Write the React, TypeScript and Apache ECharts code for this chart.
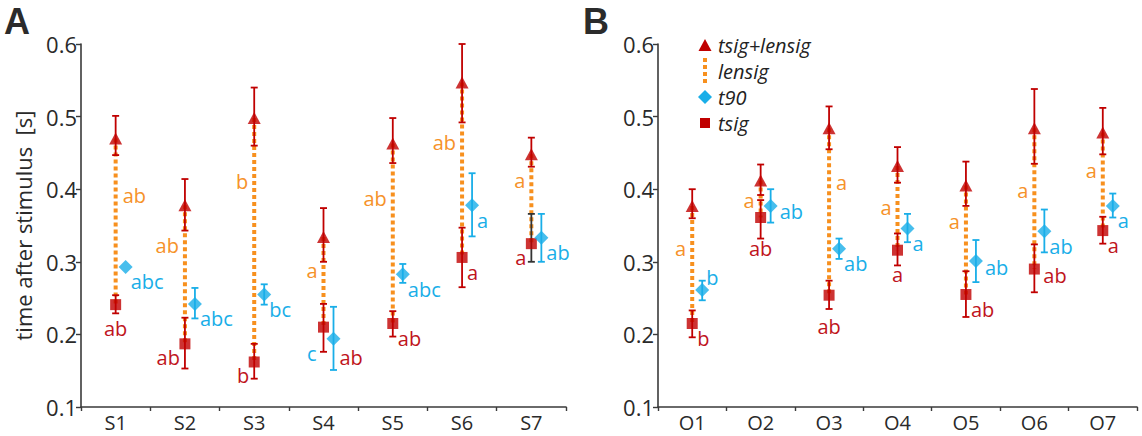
import React, { useEffect, useRef } from "react";
import * as echarts from "echarts";

// ---------------- DATA ----------------
const catsA = ["S1", "S2", "S3", "S4", "S5", "S6", "S7"];
const catsB = ["O1", "O2", "O3", "O4", "O5", "O6", "O7"];
const yTicks = [0.1, 0.2, 0.3, 0.4, 0.5, 0.6];

// Panel A
const tsigLensigA = [0.470, 0.378, 0.498, 0.334, 0.463, 0.547, 0.448];
const tsigLensigHiA = [0.501, 0.414, 0.540, 0.374, 0.498, 0.600, 0.471];
const tsigLensigLoA = [0.447, 0.343, 0.460, 0.300, 0.436, 0.492, 0.431];
const tsigA = [0.241, 0.187, 0.162, 0.210, 0.215, 0.306, 0.325];
const tsigHiA = [0.254, 0.223, 0.187, 0.242, 0.232, 0.347, 0.366];
const tsigLoA = [0.229, 0.153, 0.139, 0.176, 0.197, 0.265, 0.300];
const t90A = [0.293, 0.242, 0.255, 0.194, 0.283, 0.378, 0.333];
const t90HiA = [0.293, 0.264, 0.269, 0.238, 0.297, 0.422, 0.366];
const t90LoA = [0.293, 0.222, 0.241, 0.151, 0.271, 0.335, 0.300];

// Panel B
const tsigLensigB = [0.377, 0.412, 0.484, 0.432, 0.405, 0.484, 0.478];
const tsigLensigHiB = [0.400, 0.434, 0.514, 0.458, 0.438, 0.538, 0.512];
const tsigLensigLoB = [0.360, 0.392, 0.455, 0.409, 0.377, 0.435, 0.448];
const tsigB = [0.215, 0.361, 0.254, 0.316, 0.255, 0.290, 0.343];
const tsigHiB = [0.233, 0.385, 0.274, 0.339, 0.287, 0.324, 0.362];
const tsigLoB = [0.196, 0.332, 0.235, 0.295, 0.224, 0.258, 0.325];
const t90B = [0.261, 0.377, 0.318, 0.346, 0.301, 0.342, 0.377];
const t90HiB = [0.274, 0.400, 0.332, 0.366, 0.330, 0.372, 0.394];
const t90LoB = [0.247, 0.354, 0.304, 0.327, 0.272, 0.313, 0.361];

// significance letters
const lensigLettersA = ["ab", "ab", "b", "a", "ab", "ab", "a"];
const lensigSideA = ["right", "left", "left", "left", "left", "left", "left"];
const lensigLabelAtA = [0.392, 0.323, 0.410, 0.288, 0.387, 0.465, 0.412];
const t90LettersA = ["abc", "abc", "bc", "c", "abc", "a", "ab"];
const t90PlaceA = ["rb", "rb", "rb", "lb2", "rb", "rb", "rb"];
const tsigLettersA = ["ab", "ab", "b", "ab", "ab", "a", "a"];
const tsigPlaceA = ["b", "lb", "lb", "rbb", "rb", "rb", "lb"];

const lensigLettersB = ["a", "a", "a", "a", "a", "a", "a"];
const lensigSideB = ["left", "left", "right", "left", "left", "left", "left"];
const lensigLabelAtB = [0.318, 0.385, 0.409, 0.375, 0.356, 0.398, 0.426];
const t90LettersB = ["b", "ab", "ab", "a", "ab", "ab", "a"];
const t90PlaceB = ["rt", "r", "rb", "rb", "r", "rb", "rb"];
const tsigLettersB = ["b", "ab", "ab", "a", "ab", "ab", "a"];
const tsigPlaceB = ["rb", "bb", "bb", "b", "rb", "r", "rb"];

// categories whose tsig error bar is drawn dark
const darkTsigBars = ["S7"];

// ---------------- STYLE ----------------
const RED = "#C00000";
const BLUE = "#19AEE8";
const ORANGE = "#F7901E";
const ORANGE_TXT = "#F6922A";
const RED_TXT = "#C0141C";
const AXIS = "#3a3a3a";
const FONT = "'Open Sans', sans-serif";
const T90_DX = 10;

const placeOffsets: Record<string, [number, number, string]> = {
  rb: [5, 15, "left"],
  lb: [-5, 14, "right"],
  lb2: [-17, 15, "right"],
  b: [0, 24, "center"],
  bb: [0, 31, "center"],
  r: [9, 6, "left"],
  rt: [4, -13, "left"],
  rbb: [16, 30, "left"],
};

function App() {
  const ref = useRef<HTMLDivElement>(null);

  useEffect(() => {
    if (!ref.current) return;
    const chart = echarts.init(ref.current, undefined, { renderer: "svg" });

    const panels = [
      {
        cats: catsA, tl: tsigLensigA, tlHi: tsigLensigHiA, tlLo: tsigLensigLoA,
        ts: tsigA, tsHi: tsigHiA, tsLo: tsigLoA, t9: t90A, t9Hi: t90HiA, t9Lo: t90LoA,
        lL: lensigLettersA, lS: lensigSideA, lAt: lensigLabelAtA,
        t9L: t90LettersA, t9P: t90PlaceA, tsL: tsigLettersA, tsP: tsigPlaceA,
      },
      {
        cats: catsB, tl: tsigLensigB, tlHi: tsigLensigHiB, tlLo: tsigLensigLoB,
        ts: tsigB, tsHi: tsigHiB, tsLo: tsigLoB, t9: t90B, t9Hi: t90HiB, t9Lo: t90LoB,
        lL: lensigLettersB, lS: lensigSideB, lAt: lensigLabelAtB,
        t9L: t90LettersB, t9P: t90PlaceB, tsL: tsigLettersB, tsP: tsigPlaceB,
      },
    ];

    const errBarSeries = (p: any, idx: number, lo: number[], hi: number[], color: string, dx: number, name: string, darkCats: string[]) => ({
      type: "custom",
      name,
      xAxisIndex: idx,
      yAxisIndex: idx,
      z: 3,
      silent: true,
      data: p.cats.map((c: string, i: number) => [i, lo[i], hi[i], darkCats.indexOf(c) >= 0 ? 1 : 0]),
      renderItem: (params: any, api: any) => {
        const x = api.value(0);
        const l = api.coord([x, api.value(1)]);
        const h = api.coord([x, api.value(2)]);
        if (Math.abs(l[1] - h[1]) < 2) return { type: "group", children: [] };
        const cx = l[0] + dx;
        const col = api.value(3) ? "#333333" : color;
        const st = { stroke: col, lineWidth: 1.8 };
        return {
          type: "group",
          children: [
            { type: "line", shape: { x1: cx, y1: l[1], x2: cx, y2: h[1] }, style: st },
            { type: "line", shape: { x1: cx - 3.5, y1: l[1], x2: cx + 3.5, y2: l[1] }, style: st },
            { type: "line", shape: { x1: cx - 3.5, y1: h[1], x2: cx + 3.5, y2: h[1] }, style: st },
          ],
        };
      },
    });

    const series: any[] = [];
    panels.forEach((p, idx) => {
      // dotted lensig line
      series.push({
        type: "custom",
        name: "lensig",
        xAxisIndex: idx,
        yAxisIndex: idx,
        z: 2,
        silent: true,
        data: p.cats.map((_c, i) => [i, p.tl[i], p.ts[i]]),
        renderItem: (params: any, api: any) => {
          const x = api.value(0);
          const a = api.coord([x, api.value(1)]);
          const b = api.coord([x, api.value(2)]);
          return {
            type: "line",
            shape: { x1: a[0], y1: a[1], x2: b[0], y2: b[1] },
            style: { stroke: ORANGE, lineWidth: 4, lineDash: [4, 3], lineCap: "butt" },
          };
        },
      });
      series.push(errBarSeries(p, idx, p.tlLo, p.tlHi, RED, 0, "tsig+lensig err", []));
      series.push(errBarSeries(p, idx, p.tsLo, p.tsHi, RED, 0, "tsig err", darkTsigBars));
      series.push(errBarSeries(p, idx, p.t9Lo, p.t9Hi, BLUE, T90_DX, "t90 err", []));

      series.push({
        type: "scatter", name: "tsig+lensig", xAxisIndex: idx, yAxisIndex: idx, z: 4,
        symbol: "triangle", symbolSize: [13, 12], itemStyle: { color: RED },
        data: p.tl.map((v, i) => [i, v]),
      });
      series.push({
        type: "scatter", name: "tsig", xAxisIndex: idx, yAxisIndex: idx, z: 4,
        symbol: "rect", symbolSize: 11, itemStyle: { color: RED },
        data: p.ts.map((v, i) => [i, v]),
      });
      series.push({
        type: "scatter", name: "t90", xAxisIndex: idx, yAxisIndex: idx, z: 4,
        symbol: "diamond", symbolSize: [14, 14], symbolOffset: [T90_DX, 0], itemStyle: { color: BLUE },
        data: p.t9.map((v, i) => [i, v]),
      });

      // letters
      const labelData: any[] = [];
      p.cats.forEach((_c, i) => {
        labelData.push([i, p.lAt[i], p.lL[i], "lensig:" + p.lS[i]]);
        labelData.push([i, p.t9[i], p.t9L[i], "t90:" + p.t9P[i]]);
        labelData.push([i, p.ts[i], p.tsL[i], "tsig:" + p.tsP[i]]);
      });
      series.push({
        type: "custom",
        name: "letters",
        xAxisIndex: idx,
        yAxisIndex: idx,
        z: 5,
        silent: true,
        dimensions: ["x", "y", "text", "kind"],
        encode: { x: 0, y: 1 },
        data: labelData,
        renderItem: (params: any, api: any) => {
          const d = labelData[params.dataIndex];
          const pt = api.coord([d[0], d[1]]);
          const [kind, place] = (d[3] as string).split(":");
          let x = pt[0], y = pt[1], align = "left", fill = RED_TXT;
          if (kind === "lensig") {
            fill = ORANGE_TXT;
            if (place === "left") { x -= 6; align = "right"; } else { x += 7; align = "left"; }
          } else {
            const o = placeOffsets[place];
            const base = kind === "t90" ? T90_DX : 0;
            x += base + o[0];
            y += o[1];
            align = o[2];
            fill = kind === "t90" ? BLUE : RED_TXT;
          }
          return {
            type: "text",
            style: { text: d[2], x, y, fill, font: `20px ${FONT}`, align, verticalAlign: "middle", lineHeight: 20 },
          };
        },
      });
    });

    const mkX = (cats: string[], gi: number) => ({
      type: "category",
      gridIndex: gi,
      data: cats,
      boundaryGap: true,
      axisLine: { lineStyle: { color: AXIS, width: 1.6 } },
      axisTick: { show: true, length: 4, lineStyle: { color: AXIS, width: 1.4 } },
      axisLabel: { fontSize: 20, lineHeight: 20, color: "#2a2a2a", fontFamily: FONT, margin: 5 },
      splitLine: { show: false },
    });
    const mkY = (gi: number, withName: boolean) => ({
      type: "value",
      gridIndex: gi,
      min: yTicks[0],
      max: yTicks[yTicks.length - 1],
      interval: 0.1,
      name: withName ? "time after stimulus  [s]" : "",
      nameLocation: "middle",
      nameGap: 47,
      nameTextStyle: { fontSize: 22, color: "#2a2a2a", fontFamily: FONT },
      axisLine: { show: true, lineStyle: { color: AXIS, width: 1.6 } },
      axisTick: { show: true, length: 5, lineStyle: { color: AXIS, width: 1.4 } },
      axisLabel: { fontSize: 22, color: "#2a2a2a", fontFamily: FONT, margin: 4, formatter: (v: number) => v.toFixed(1) },
      splitLine: { show: false },
    });

    const legendX = 705;
    const legendTextX = 718;
    const rows = [45, 71, 97, 123];
    const legendFont = `italic 20px ${FONT}`;
    const legText = (t: string, y: number) => ({
      type: "text", x: legendTextX, y,
      style: { text: t, font: legendFont, fill: "#222", verticalAlign: "middle", lineHeight: 20 },
    });

    chart.setOption({
      animation: false,
      grid: [
        { left: 81, right: 576, top: 44, bottom: 29, containLabel: false },
        { left: 658, right: 5, top: 44, bottom: 29, containLabel: false },
      ],
      xAxis: [mkX(catsA, 0), mkX(catsB, 1)],
      yAxis: [mkY(0, true), mkY(1, false)],
      series,
      graphic: [
        { type: "text", left: 4, top: 3, style: { text: "A", font: `bold 36px 'Liberation Sans', Arial, sans-serif`, fill: "#2b2b2b" } },
        { type: "text", left: 583, top: 3, style: { text: "B", font: `bold 36px 'Liberation Sans', Arial, sans-serif`, fill: "#2b2b2b" } },
        { type: "polygon", shape: { points: [[legendX - 6.5, rows[0] + 6], [legendX + 6.5, rows[0] + 6], [legendX, rows[0] - 6]] }, style: { fill: RED } },
        { type: "line", shape: { x1: legendX, y1: rows[1] - 13, x2: legendX, y2: rows[1] + 13 }, style: { stroke: ORANGE, lineWidth: 4, lineDash: [4, 3] } },
        { type: "polygon", shape: { points: [[legendX, rows[2] - 7], [legendX + 7, rows[2]], [legendX, rows[2] + 7], [legendX - 7, rows[2]]] }, style: { fill: BLUE } },
        { type: "rect", shape: { x: legendX - 5, y: rows[3] - 5, width: 10, height: 10 }, style: { fill: RED } },
        legText("tsig+lensig", rows[0]),
        legText("lensig", rows[1]),
        legText("t90", rows[2]),
        legText("tsig", rows[3]),
      ],
    });

    return () => chart.dispose();
  }, []);

  return (
    <div
      ref={ref}
      style={{ position: "fixed", left: 0, top: 0, width: 1142, height: 436, background: "#fff" }}
    />
  );
}

export default App;
